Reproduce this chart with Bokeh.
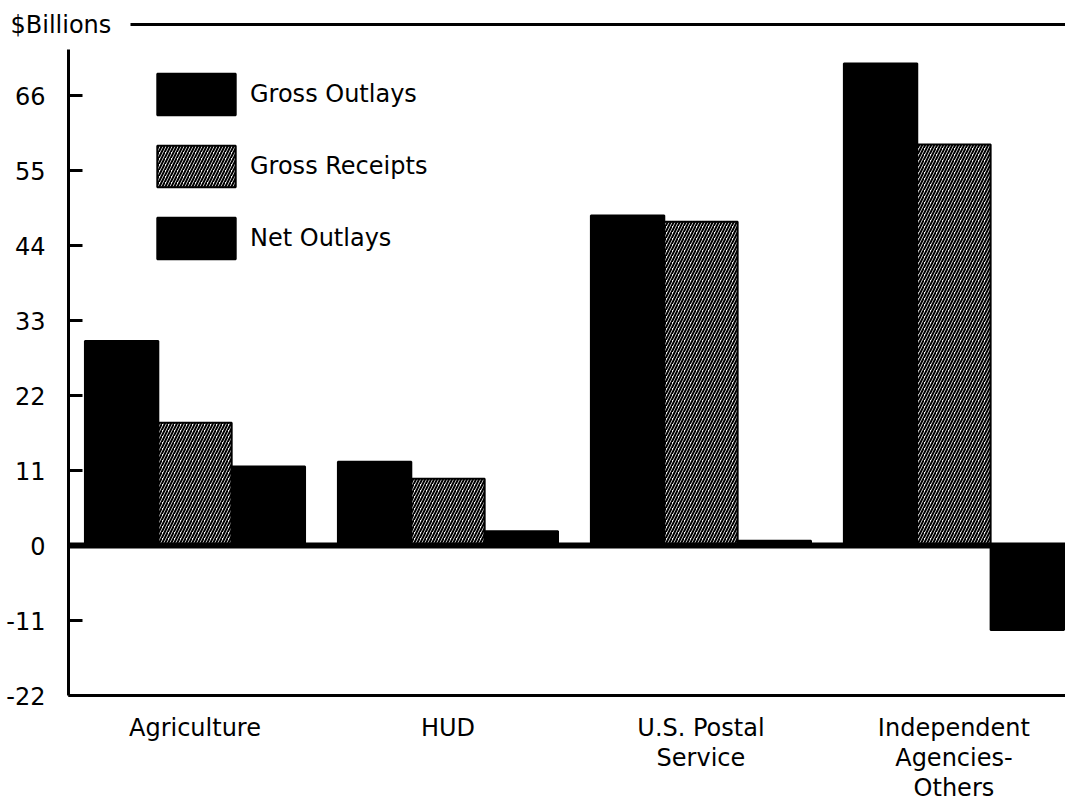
from bokeh.plotting import figure
from bokeh.layouts import column
from bokeh.models import ColumnDataSource, Range1d, Span, FixedTicker
from bokeh.core.properties import value
from bokeh.transform import dodge
from bokeh.embed import file_html
from bokeh.resources import INLINE

# ---- data ----
categories = ["Agriculture", "HUD", "U.S. Postal\nService", "Independent\nAgencies-\nOthers"]
gross_outlays = [30.0, 12.3, 48.4, 70.7]
gross_receipts = [18.0, 9.8, 47.5, 58.8]
net_outlays = [11.6, 2.1, 0.7, -12.4]
y_ticks = [-22, -11, 0, 11, 22, 33, 44, 55, 66]
y_title = "$Billions"

FONT = "DejaVu Sans"
FS = "24px"
WIDTH = 1065

# ---- header strip: unit title and top rule ----
top = figure(width=WIDTH, height=40, output_backend="svg", toolbar_location=None,
             x_range=Range1d(0, WIDTH), y_range=Range1d(40, 0),
             min_border=0)
top.frame_align = False
top.axis.visible = False
top.grid.visible = False
top.outline_line_color = None
top.text(x=[10], y=[24], text=[y_title], text_font=value(FONT), text_font_size=FS,
         text_baseline="middle", text_align="left", text_color="black")
top.segment(x0=[130], y0=[24], x1=[WIDTH], y1=[24], line_color="black", line_width=3)

# ---- main chart ----
xs = list(range(len(categories)))
src = ColumnDataSource(dict(x=xs, gross=gross_outlays, receipts=gross_receipts, net=net_outlays))

W = 0.29
p = figure(width=WIDTH, height=764, output_backend="svg", toolbar_location=None,
           x_range=Range1d(-0.5, 3.441), y_range=Range1d(-22, 74.07),
           min_border_left=68, min_border_right=0, min_border_top=0, min_border_bottom=109)
p.frame_align = False
p.outline_line_color = None
p.grid.visible = False

p.vbar(x=dodge("x", -W, range=p.x_range), top="gross", bottom=0, width=W, source=src,
       fill_color="black", line_color="black", line_width=2, legend_label="Gross Outlays")
p.vbar(x=dodge("x", 0, range=p.x_range), top="receipts", bottom=0, width=W, source=src,
       fill_color="white", hatch_pattern="/", hatch_color="black", hatch_scale=6,
       hatch_weight=2, line_color="black", line_width=2, legend_label="Gross Receipts")
p.vbar(x=dodge("x", W, range=p.x_range), top="net", bottom=0, width=W, source=src,
       fill_color="black", line_color="black", line_width=2, legend_label="Net Outlays")

# zero line
p.add_layout(Span(location=0, dimension="width", line_color="black", line_width=6))

# y axis
ya = p.yaxis[0]
ya.ticker = FixedTicker(ticks=y_ticks)
ya.major_label_overrides = {t: str(t) for t in y_ticks}
ya.bounds = (-22, 72.7)
ya.axis_line_width = 3
ya.axis_line_color = "black"
ya.major_tick_in = 14
ya.major_tick_out = 0
ya.major_tick_line_width = 3
ya.major_tick_line_color = "black"
ya.minor_tick_line_color = None
ya.major_label_standoff = 23
ya.major_label_text_font = FONT
ya.major_label_text_font_size = FS
ya.major_label_text_color = "black"

# x axis: line + category labels
xa = p.xaxis[0]
xa.ticker = FixedTicker(ticks=xs)
xa.major_label_overrides = {i: name for i, name in zip(xs, categories)}
xa.axis_line_width = 3
xa.axis_line_color = "black"
xa.major_tick_line_color = None
xa.major_tick_in = 0
xa.major_tick_out = 0
xa.minor_tick_line_color = None
xa.major_label_standoff = 18
xa.major_label_text_font = FONT
xa.major_label_text_font_size = FS
xa.major_label_text_line_height = 1.08
xa.major_label_text_color = "black"

lg = p.legend[0]
lg.location = (79, 431)
lg.padding = 0
lg.margin = 0
lg.spacing = 20
lg.glyph_width = 98
lg.glyph_height = 52
lg.label_standoff = 5
lg.label_text_font = FONT
lg.label_text_font_size = FS
lg.label_text_color = "black"
lg.border_line_color = None
lg.background_fill_alpha = 0

layout = column(top, p, spacing=0)
open("out.html", "w").write(file_html(layout, INLINE))
